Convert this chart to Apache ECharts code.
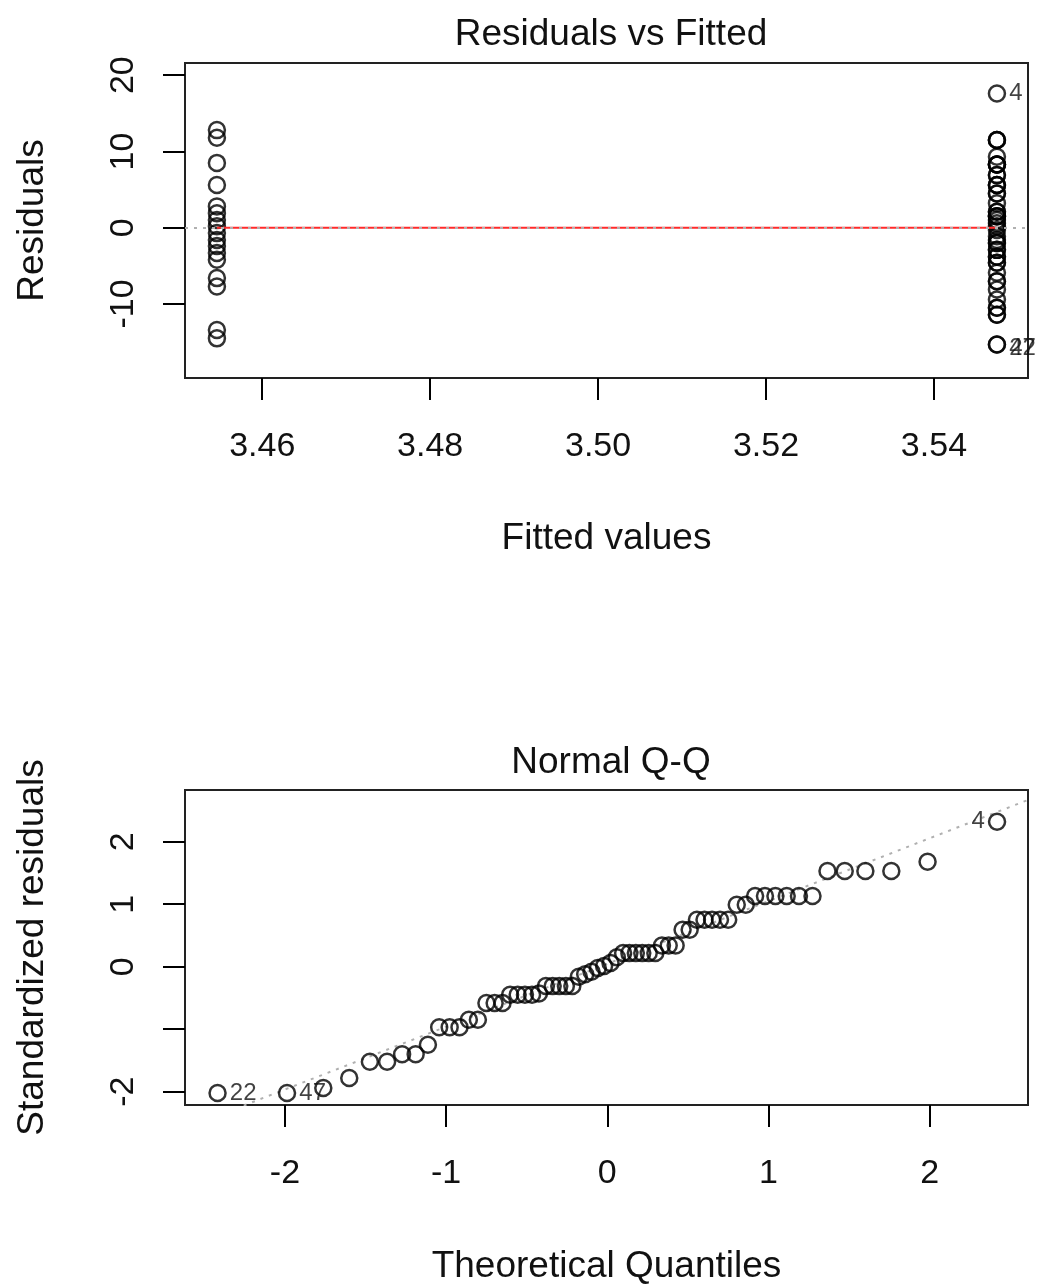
<!DOCTYPE html>
<html>
<head>
<meta charset="utf-8">
<script src="https://cdn.jsdelivr.net/npm/echarts@6/dist/echarts.min.js"></script>
<style>
html,body{margin:0;padding:0;background:#fff;}
#chart{width:1040px;height:1287px;}
</style>
</head>
<body>
<div id="chart"></div>
<script>
// ---- Residuals vs Fitted ----
const fittedLeft = 3.4546;
const fittedRight = 3.5475;
const residLeft = [12.8, 11.8, 8.5, 5.6, 2.8, 1.9, 1.0, 0.2, -0.7, -1.6, -2.4, -3.3, -4.2, -6.6, -7.7, -13.4, -14.5];
const residRight = [17.6, 11.5, 11.5, 11.5, 9.3, 8.3, 8.3, 8.3, 8.3, 6.9, 6.9, 5.6, 5.6, 5.6, 4.5, 4.5, 3.2,
  2.1, 2.1, 1.5, 1.5, 1.5, 1.0, 0.6, 0.2, -0.3, -1.1, -1.6, -2.0, -2.0, -2.9, -2.9, -3.8, -3.8, -4.6, -4.6,
  -5.9, -7.0, -7.0, -8.1, -9.4, -10.5, -10.5, -11.4, -11.4, -15.3, -15.3];
const residRightLabels = {0: '4', 45: '22', 46: '47'};
const smoothX = [fittedLeft, fittedRight];
const smoothY = [0, 0];
const fittedTicks = [3.46, 3.48, 3.50, 3.52, 3.54];
const residTicks = [-10, 0, 10, 20];

// ---- Normal Q-Q ----
const qqX = [-2.418, -1.987, -1.762, -1.601, -1.473, -1.366, -1.273, -1.189, -1.113, -1.043, -0.978, -0.917,
  -0.859, -0.803, -0.750, -0.699, -0.650, -0.603, -0.556, -0.511, -0.467, -0.424, -0.381, -0.339, -0.298,
  -0.257, -0.217, -0.177, -0.137, -0.098, -0.059, -0.020,
  0.020, 0.059, 0.098, 0.137, 0.177, 0.217, 0.257, 0.298, 0.339, 0.381, 0.424, 0.467, 0.511, 0.556, 0.603,
  0.650, 0.699, 0.750, 0.803, 0.859, 0.917, 0.978, 1.043, 1.113, 1.189, 1.273, 1.366, 1.473, 1.601, 1.762,
  1.987, 2.418];
const qqY = [-2.02, -2.02, -1.94, -1.78, -1.52, -1.52, -1.40, -1.40, -1.25, -0.97, -0.97, -0.97, -0.85, -0.85,
  -0.58, -0.58, -0.58, -0.45, -0.45, -0.45, -0.45, -0.43, -0.31, -0.31, -0.31, -0.31, -0.31, -0.16, -0.12,
  -0.08, -0.02, 0.01, 0.06, 0.15, 0.22, 0.22, 0.22, 0.22, 0.22, 0.22, 0.34, 0.34, 0.34, 0.59, 0.59, 0.75,
  0.75, 0.75, 0.75, 0.75, 0.99, 0.99, 1.13, 1.13, 1.13, 1.13, 1.13, 1.13, 1.53, 1.53, 1.53, 1.53, 1.68, 2.32];
const qqLabels = {0: '22', 1: '47', 63: '4'};
const qqLineX = [-2.62, 2.61];
const qqLineY = [-2.588, 2.668];
const qqXTicks = [-2, -1, 0, 1, 2];
const qqYTicks = [-2, -1, 0, 1, 2];
const qqYLabelTicks = [-2, 0, 1, 2];

const FONT = 'Liberation Sans, Arial, sans-serif';
const ptStyle = {color: 'rgba(0,0,0,0)', borderColor: '#000', borderWidth: 2.5};
const lblStyle = {fontFamily: FONT, fontSize: 24, color: '#111'};

function axisCommon(ticks, labelTicks, fmt, rotate, margin, extra) {
  return Object.assign({
    type: 'value',
    splitLine: {show: false},
    axisLine: {show: false, onZero: false},
    axisTick: {show: true, customValues: ticks, length: 22, lineStyle: {color: '#000', width: 2}},
    axisLabel: {show: true, customValues: labelTicks, formatter: fmt, rotate: rotate, margin: margin,
      fontFamily: FONT, fontSize: 34, color: '#111'},
    nameLocation: 'middle',
    nameTextStyle: {fontFamily: FONT, fontSize: 37, color: '#111'}
  }, extra);
}

const chart = echarts.init(document.getElementById('chart'), null, {renderer: 'canvas'});

const rightData = residRight.map((r, i) => {
  const d = {value: [fittedRight, r]};
  if (residRightLabels[i] !== undefined) {
    d.label = {show: true, formatter: residRightLabels[i], position: 'right', distance: 3, offset: [0, i === 0 ? 0 : 4]};
  }
  return d;
});
const qqData = qqX.map((x, i) => {
  const d = {value: [x, qqY[i]]};
  if (qqLabels[i] !== undefined) {
    d.label = {show: true, formatter: qqLabels[i], position: i === 63 ? 'left' : 'right', distance: 3};
  }
  return d;
});

const option = {
  animation: false,
  backgroundColor: '#fff',
  title: [
    {text: 'Residuals vs Fitted', left: 606, top: 11, textAlign: 'center',
     textStyle: {fontFamily: FONT, fontSize: 37, fontWeight: 'normal', color: '#111'}},
    {text: 'Normal Q-Q', left: 606, top: 739, textAlign: 'center',
     textStyle: {fontFamily: FONT, fontSize: 37, fontWeight: 'normal', color: '#111'}}
  ],
  grid: [
    {left: 185, top: 63, width: 843, height: 315, show: true, borderColor: '#222', borderWidth: 2, backgroundColor: 'transparent'},
    {left: 185, top: 790, width: 843, height: 315, show: true, borderColor: '#222', borderWidth: 2, backgroundColor: 'transparent'}
  ],
  xAxis: [
    axisCommon(fittedTicks, fittedTicks, v => v.toFixed(2), 0, 52,
      {gridIndex: 0, min: 3.4508, max: 3.5512, name: 'Fitted values', nameGap: 142}),
    axisCommon(qqXTicks, qqXTicks, v => String(v), 0, 52,
      {gridIndex: 1, min: -2.62, max: 2.61, name: 'Theoretical Quantiles', nameGap: 143})
  ],
  yAxis: [
    axisCommon(residTicks, residTicks, v => String(v), 90, 44,
      {gridIndex: 0, min: -19.7, max: 21.6, name: 'Residuals', nameGap: 134}),
    axisCommon(qqYTicks, qqYLabelTicks, v => String(v), 90, 44,
      {gridIndex: 1, min: -2.213, max: 2.827, name: 'Standardized residuals', nameGap: 134})
  ],
  series: [
    {type: 'line', xAxisIndex: 0, yAxisIndex: 0, data: smoothX.map((x, i) => [x, smoothY[i]]),
     symbol: 'none', lineStyle: {color: '#ff2a2a', width: 2}, z: 3,
     markLine: {silent: true, symbol: 'none', label: {show: false},
       lineStyle: {color: '#b0b0b0', type: [3, 6], width: 2}, data: [{yAxis: 0}], z: 4}},
    {type: 'scatter', xAxisIndex: 0, yAxisIndex: 0, symbol: 'circle', symbolSize: 16,
     itemStyle: ptStyle, data: residLeft.map(r => [fittedLeft, r]), z: 2},
    {type: 'scatter', xAxisIndex: 0, yAxisIndex: 0, symbol: 'circle', symbolSize: 16,
     itemStyle: ptStyle, label: Object.assign({show: false}, lblStyle), data: rightData, z: 2},
    {type: 'line', xAxisIndex: 1, yAxisIndex: 1, data: qqLineX.map((x, i) => [x, qqLineY[i]]),
     symbol: 'none', clip: true, lineStyle: {color: '#b0b0b0', type: [3, 6], width: 2}, z: 1},
    {type: 'scatter', xAxisIndex: 1, yAxisIndex: 1, symbol: 'circle', symbolSize: 16,
     itemStyle: ptStyle, label: Object.assign({show: false}, lblStyle), data: qqData, z: 2}
  ]
};
chart.setOption(option);
</script>
</body>
</html>
